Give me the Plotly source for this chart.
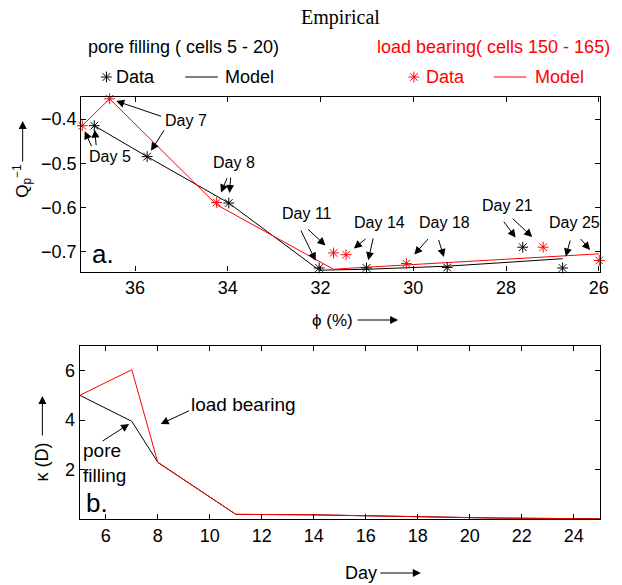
import plotly.graph_objects as go

# ---- data -------------------------------------------------------------
days = [5, 7, 8, 11, 14, 18, 21, 25]
day_labels = ["Day 5", "Day 7", "Day 8", "Day 11", "Day 14", "Day 18", "Day 21", "Day 25"]

# porosity (%) and inverse quality factor, pore-filling cells 5-20
phi_pore = [36.88, 35.74, 33.98, 32.03, 31.01, 29.27, 27.64, 26.78]
q_pore_data = [-0.415, -0.485, -0.590, -0.737, -0.737, -0.736, -0.690, -0.737]
q_pore_model = [-0.415, -0.485, -0.590, -0.742, -0.740, -0.733, -0.722, -0.716]

# load-bearing cells 150-165
phi_load = [37.14, 36.55, 34.24, 31.72, 31.45, 30.15, 27.20, 25.99]
q_load_data = [-0.415, -0.354, -0.589, -0.703, -0.707, -0.727, -0.690, -0.720]
q_load_model = [-0.415, -0.354, -0.594, -0.740, -0.738, -0.730, -0.712, -0.705]

# permeability kappa (D) versus day
kappa_pore = [5.00, 3.95, 2.30, 0.20, 0.18, 0.10, 0.05, 0.02]
kappa_load = [5.00, 6.03, 2.29, 0.20, 0.18, 0.11, 0.05, 0.02]

phi_ticks = [36, 34, 32, 30, 28, 26]
q_ticks = [-0.4, -0.5, -0.6, -0.7]
day_ticks = [6, 8, 10, 12, 14, 16, 18, 20, 22, 24]
kappa_ticks = [2, 4, 6]

# ---- layout helpers ---------------------------------------------------
W, H = 622, 585
FONT = "Liberation Sans, Arial, Helvetica, sans-serif"
RED = "#ff0000"
HEAD = 1.6  # arrowhead scale


def px(x):
    return x / W


def py(y):
    return 1 - y / H


def star(color):
    return dict(symbol="asterisk-open", size=9, color=color,
                line=dict(color=color, width=1))


fig = go.Figure()

# top panel: Q^-1 vs porosity
fig.add_trace(go.Scatter(x=phi_pore, y=q_pore_model, mode="lines",
                         line=dict(color="black", width=1), xaxis="x", yaxis="y",
                         showlegend=False, cliponaxis=False))
fig.add_trace(go.Scatter(x=phi_load, y=q_load_model, mode="lines",
                         line=dict(color=RED, width=1), xaxis="x", yaxis="y",
                         showlegend=False, cliponaxis=False))
fig.add_trace(go.Scatter(x=phi_pore, y=q_pore_data, mode="markers",
                         marker=star("black"), xaxis="x", yaxis="y",
                         showlegend=False, cliponaxis=False))
fig.add_trace(go.Scatter(x=phi_load, y=q_load_data, mode="markers",
                         marker=star(RED), xaxis="x", yaxis="y",
                         showlegend=False, cliponaxis=False))

# bottom panel: kappa vs day
fig.add_trace(go.Scatter(x=days, y=kappa_pore, mode="lines",
                         line=dict(color="black", width=1), xaxis="x2", yaxis="y2",
                         showlegend=False))
fig.add_trace(go.Scatter(x=days, y=kappa_load, mode="lines",
                         line=dict(color=RED, width=1), xaxis="x2", yaxis="y2",
                         showlegend=False))

# legend glyphs on a hidden full-page axis measured in pixels
fig.add_trace(go.Scatter(x=[108], y=[77], mode="markers", marker=star("black"),
                         xaxis="x3", yaxis="y3", showlegend=False, cliponaxis=False))
fig.add_trace(go.Scatter(x=[420], y=[77], mode="markers", marker=star(RED),
                         xaxis="x3", yaxis="y3", showlegend=False, cliponaxis=False))

axis_common = dict(showgrid=False, zeroline=False, showline=True, linecolor="black",
                   linewidth=1.2, mirror="ticks", ticks="inside", ticklen=5,
                   tickwidth=1, tickcolor="black",
                   tickfont=dict(family=FONT, size=18, color="black"))

fig.update_layout(
    width=W, height=H, margin=dict(l=0, r=0, t=0, b=0),
    paper_bgcolor="white", plot_bgcolor="rgba(0,0,0,0)",
    xaxis=dict(domain=[px(82.5), px(609)], range=[37.16, 25.97], tickvals=phi_ticks,
               anchor="y", **axis_common),
    yaxis=dict(domain=[py(271.5), py(97)], range=[-0.745, -0.35], tickvals=q_ticks,
               tickformat=".1f", anchor="x", **axis_common),
    xaxis2=dict(domain=[px(81), px(608.5)], range=[5, 25], tickvals=day_ticks,
                anchor="y2", **axis_common),
    yaxis2=dict(domain=[py(519.3), py(345.7)], range=[0, 7], tickvals=kappa_ticks,
                anchor="x2", **axis_common),
    xaxis3=dict(domain=[0, 1], range=[0, W], visible=False, anchor="y3"),
    yaxis3=dict(domain=[0, 1], range=[H, 0], visible=False, anchor="x3"),
)

ann = []


def text(x, y, s, size=16, color="black", family=FONT, xanchor="center", **kw):
    ann.append(dict(xref="paper", yref="paper", x=px(x), y=py(y), text=s,
                    showarrow=False, xanchor=xanchor, yanchor="middle",
                    font=dict(family=family, size=size, color=color), **kw))


def page_arrow(x, y, ax, ay):
    # arrow whose head sits at page pixel (x, y), tail offset by (ax, ay)
    ann.append(dict(xref="paper", yref="paper", x=px(x), y=py(y), text="",
                    showarrow=True, ax=ax, ay=ay, arrowhead=2, arrowsize=HEAD,
                    arrowwidth=1, arrowcolor="black"))


# title and legend
text(346, 17, "Empirical", size=20, family="Liberation Serif, Times New Roman, serif")
text(186, 47, "pore filling ( cells 5 - 20)", size=18)
text(501, 47, "load bearing( cells 150 - 165)", size=18, color=RED)
text(116, 77, "Data", size=18, xanchor="left")
text(226, 77, "Model", size=18, xanchor="left")
text(430, 77, "Data", size=18, color=RED, xanchor="left")
text(541, 77, "Model", size=18, color=RED, xanchor="left")
fig.add_shape(type="line", xref="paper", yref="paper", x0=px(188), x1=px(221),
              y0=py(77), y1=py(77), line=dict(color="black", width=1))
fig.add_shape(type="line", xref="paper", yref="paper", x0=px(501), x1=px(534),
              y0=py(77), y1=py(77), line=dict(color=RED, width=1))

# day labels in the top panel
label_pos = [(112, 157), (189, 121), (237, 162), (312, 213),
             (385, 222), (451, 222), (515, 205), (583, 222)]
for (lx, ly), s in zip(label_pos, day_labels):
    text(lx, ly, s, size=16)

# arrows from each day label to its black and red points: (offset_x, offset_y, standoff)
pore_arrows = [(2, 21, 4), (18, -28, 7), (2, -27, 10), (-19, -39, 8),
               (7, -31, 8), (-9, -29, 11), (-20, -27, 12), (8, -29, 12)]
load_arrows = [(10, 22, 6), (53, 18, 7), (11, -26, 11), (-27, -25, 11),
               (21, -17, 10), (23, -26, 12), (-32, -30, 15), (-20, -23, 14)]
for xs, ys, offs in ((phi_pore, q_pore_data, pore_arrows),
                     (phi_load, q_load_data, load_arrows)):
    for xv, yv, (ax, ay, st) in zip(xs, ys, offs):
        ann.append(dict(xref="x", yref="y", x=xv, y=yv, text="", showarrow=True,
                        ax=ax, ay=ay, standoff=st, arrowhead=2, arrowsize=HEAD,
                        arrowwidth=1, arrowcolor="black"))

text(105, 254, "a.", size=26)
text(98, 503, "b.", size=26)

# axis titles with direction arrows
text(337, 320, "\u03d5 (%)", size=17)
page_arrow(404, 320, -42, 0)
text(22, 181, "Q<sub>p</sub><sup>\u22121</sup>", size=17, textangle=-90)
page_arrow(23, 121, 0, 42)
text(366, 573, "Day", size=18)
page_arrow(427, 573, -42, 0)
text(43, 462, "\u03ba (D)", size=18, textangle=-90)
page_arrow(43, 396, 0, 41)

# bottom panel call-outs
text(247, 404, "load bearing", size=19)
page_arrow(163, 424, 30, -14)
text(82, 463, "pore<br>filling", size=19, xanchor="left", align="left")
page_arrow(131, 424, -28, 18)

fig.update_layout(annotations=ann)
fig.write_html("out.html")
